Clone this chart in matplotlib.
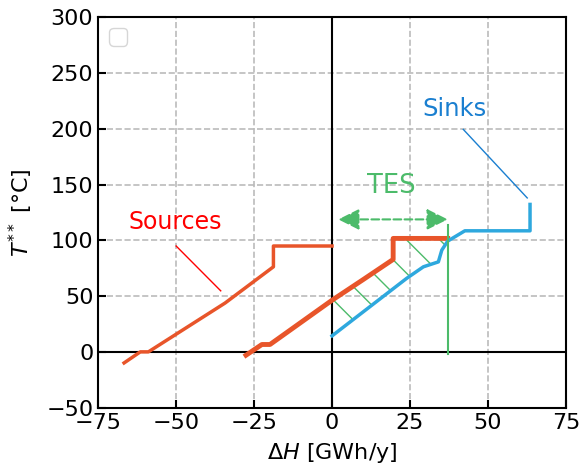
import matplotlib.pyplot as plt
import numpy as np

# Sources (two streams), sinks
src1_x = [-66.7, -61.5, -58.9, -34.3, -18.8, -18.8, 0.0]
src1_y = [-9.6, 0.3, 0.3, 44.0, 76.4, 95.0, 95.0]

src2_x = [-27.6, -22.5, -19.9, 0.0, 10.0, 19.6, 19.6, 37.1]
src2_y = [-2.7, 6.9, 6.9, 46.5, 65.0, 83.0, 101.8, 101.8]

sink_x = [0.0, 23.9, 29.3, 34.1, 35.2, 37.1, 42.6, 63.5, 63.5]
sink_y = [14.6, 66.0, 76.4, 80.8, 91.3, 99.4, 108.6, 108.6, 132.2]

tes_start, tes_end = 2.0, 37.1

c_src = '#e8552a'
c_sink = '#2ea8de'
c_tes = '#4cbb6a'

plt.rcParams['font.size'] = 16
fig, ax = plt.subplots(figsize=(5.81, 4.68), dpi=100)

ax.grid(True, linestyle='--', color='#bbbbbb', linewidth=1.2)
ax.set_axisbelow(True)
ax.axhline(0, color='black', linewidth=1.5)
ax.axvline(0, color='black', linewidth=1.5)

ax.plot(src1_x, src1_y, color=c_src, linewidth=2.5)
ax.plot(src2_x, src2_y, color=c_src, linewidth=3.5)
ax.plot(sink_x, sink_y, color=c_sink, linewidth=2.5)

# hatched TES region between source 2 and sinks
xs = np.linspace(0, tes_end, 200)
top = np.interp(xs, src2_x[3:6] + [19.61, 37.1], src2_y[3:6] + [101.8, 101.8])
bot = np.interp(xs, sink_x, sink_y)
ax.fill_between(xs, bot, top, facecolor='none', edgecolor=c_tes, hatch='\\', linewidth=0)

ax.plot([tes_end, tes_end], [-1.2, 113.7], color=c_tes, linewidth=1.5)

ax.annotate('', xy=(tes_start, 118.8), xytext=(tes_end, 118.8),
            arrowprops=dict(arrowstyle='<|-|>', linestyle='--', color=c_tes,
                            linewidth=1.5, mutation_scale=32, shrinkA=0, shrinkB=0))
ax.text(19.1, 148.6, 'TES', color=c_tes, fontsize=18.5, ha='center', va='center')

# labels with pointer lines
ax.text(39.4, 218, 'Sinks', color='#1a7fd0', fontsize=17.5, ha='center', va='center')
ax.plot([42.1, 62.6], [199.3, 138], color='#1a7fd0', linewidth=1)
ax.text(-50.3, 116.6, 'Sources', color='red', fontsize=17, ha='center', va='center')
ax.plot([-50, -35.7], [95, 54.9], color='red', linewidth=1)

ax.set_xlim(-75, 75)
ax.set_ylim(-50, 300)
ax.set_xticks([-75, -50, -25, 0, 25, 50, 75])
ax.tick_params(direction='in', width=1.5, length=6)
for s in ax.spines.values():
    s.set_linewidth(1.5)
ax.set_xlabel(r'$\Delta H$ [GWh/y]', labelpad=6)
ax.set_ylabel(r'$T^{**}$ [°C]', labelpad=8)
ax.legend(handles=[], loc='upper left')

fig.subplots_adjust(left=0.169, right=0.974, top=0.964, bottom=0.128)
fig.savefig('out.png', dpi=100)
